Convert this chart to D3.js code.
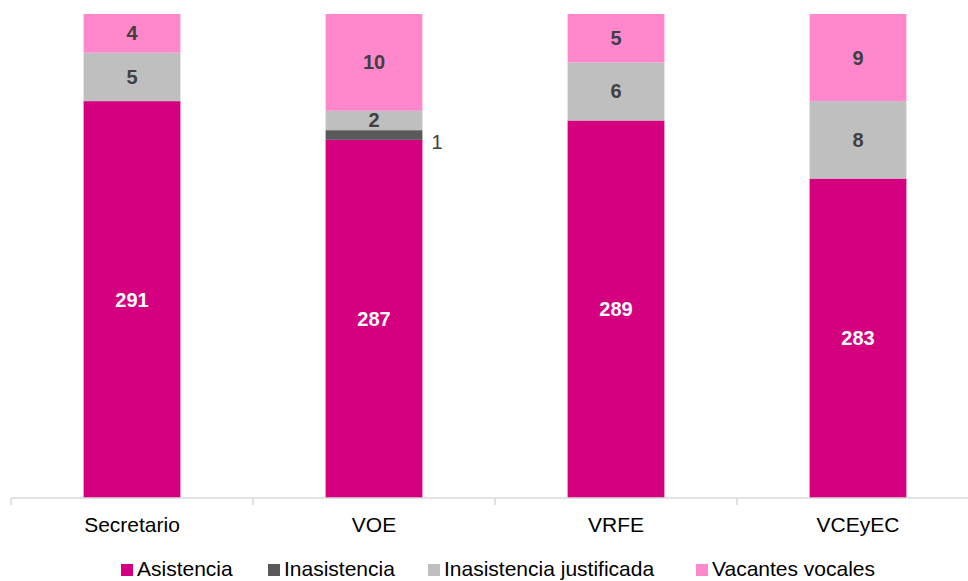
<!DOCTYPE html>
<html>
<head>
<meta charset="utf-8">
<script src="https://cdn.jsdelivr.net/npm/d3@7"></script>
<style>
  html, body { margin: 0; padding: 0; background: #fff; }
  svg { display: block; font-family: "Liberation Sans", Arial, sans-serif; }
</style>
</head>
<body>
<svg id="chart" width="968" height="581"></svg>
<script>
// ---- Data ----
const categories = ["Secretario", "VOE", "VRFE", "VCEyEC"];
const seriesNames = ["Asistencia", "Inasistencia", "Inasistencia justificada", "Vacantes vocales"];
const asistencia = [291, 287, 289, 283];
const inasistencia = [0, 1, 0, 0];
const inasistenciaJustificada = [5, 2, 6, 8];
const vacantesVocales = [4, 10, 5, 9];
const colors = ["#D5007F", "#595959", "#BFBFBF", "#FF88CC"];
const labelColors = ["#FFFFFF", "#404040", "#404040", "#404040"];

const seriesValues = [asistencia, inasistencia, inasistenciaJustificada, vacantesVocales];
const keys = ["a", "b", "c", "d"];
const table = categories.map((c, i) => {
  const row = { cat: c };
  keys.forEach((k, j) => row[k] = seriesValues[j][i]);
  return row;
});

const svg = d3.select("#chart");
const yMin = 250, yMax = 300;

const x = d3.scaleBand().domain(categories).range([11, 979]).paddingInner(0.6).paddingOuter(0.3);
const y = d3.scaleLinear().domain([yMin, yMax]).range([498, 14]);

const stacked = d3.stack().keys(keys)(table);

// Bars
const layers = svg.append("g").selectAll("g").data(stacked).join("g")
  .attr("fill", (d, i) => colors[i]);

layers.selectAll("rect").data(d => d.filter(s => s[1] - s[0] > 0)).join("rect")
  .attr("x", d => x(d.data.cat))
  .attr("width", x.bandwidth())
  .attr("y", d => y(d[1]))
  .attr("height", d => y(Math.max(d[0], yMin)) - y(d[1]));

// Labels
stacked.forEach((layer, i) => {
  layer.forEach(s => {
    const v = s[1] - s[0];
    if (v <= 0) return;
    const top = y(s[1]);
    const bottom = y(Math.max(s[0], yMin));
    const mid = (top + bottom) / 2;
    const segH = bottom - top;
    if (segH < 14) {
      svg.append("text")
        .attr("x", x(s.data.cat) + x.bandwidth() + 9)
        .attr("y", mid + 7)
        .attr("dy", "0.35em")
        .attr("font-size", 20)
        .attr("fill", "#404040")
        .text(v);
    } else {
      svg.append("text")
        .attr("x", x(s.data.cat) + x.bandwidth() / 2)
        .attr("y", mid)
        .attr("dy", "0.35em")
        .attr("text-anchor", "middle")
        .attr("font-size", 20)
        .attr("font-weight", "bold")
        .attr("fill", labelColors[i])
        .text(v);
    }
  });
});

// X axis
const axisY = y(yMin);
svg.append("line")
  .attr("x1", 11).attr("x2", 968)
  .attr("y1", axisY).attr("y2", axisY)
  .attr("stroke", "#D9D9D9").attr("stroke-width", 1.5);

const boundaries = categories.map((c, i) => x.range()[0] + i * x.step() + (i === 0 ? 0 : 0));
boundaries.forEach(tx => {
  svg.append("line")
    .attr("x1", tx).attr("x2", tx)
    .attr("y1", axisY).attr("y2", axisY + 7)
    .attr("stroke", "#D9D9D9").attr("stroke-width", 1.5);
});

svg.append("g").selectAll("text").data(categories).join("text")
  .attr("x", d => x(d) + x.bandwidth() / 2)
  .attr("y", 532)
  .attr("text-anchor", "middle")
  .attr("font-size", 21)
  .attr("fill", "#000")
  .text(d => d);

// Legend
const legendX = [121, 268, 428, 696];
const legend = svg.append("g");
seriesNames.forEach((name, i) => {
  legend.append("rect")
    .attr("x", legendX[i]).attr("y", 564)
    .attr("width", 12).attr("height", 12)
    .attr("fill", colors[i]);
  legend.append("text")
    .attr("x", legendX[i] + 16).attr("y", 576)
    .attr("font-size", 21)
    .attr("fill", "#000")
    .text(name);
});
</script>
</body>
</html>
